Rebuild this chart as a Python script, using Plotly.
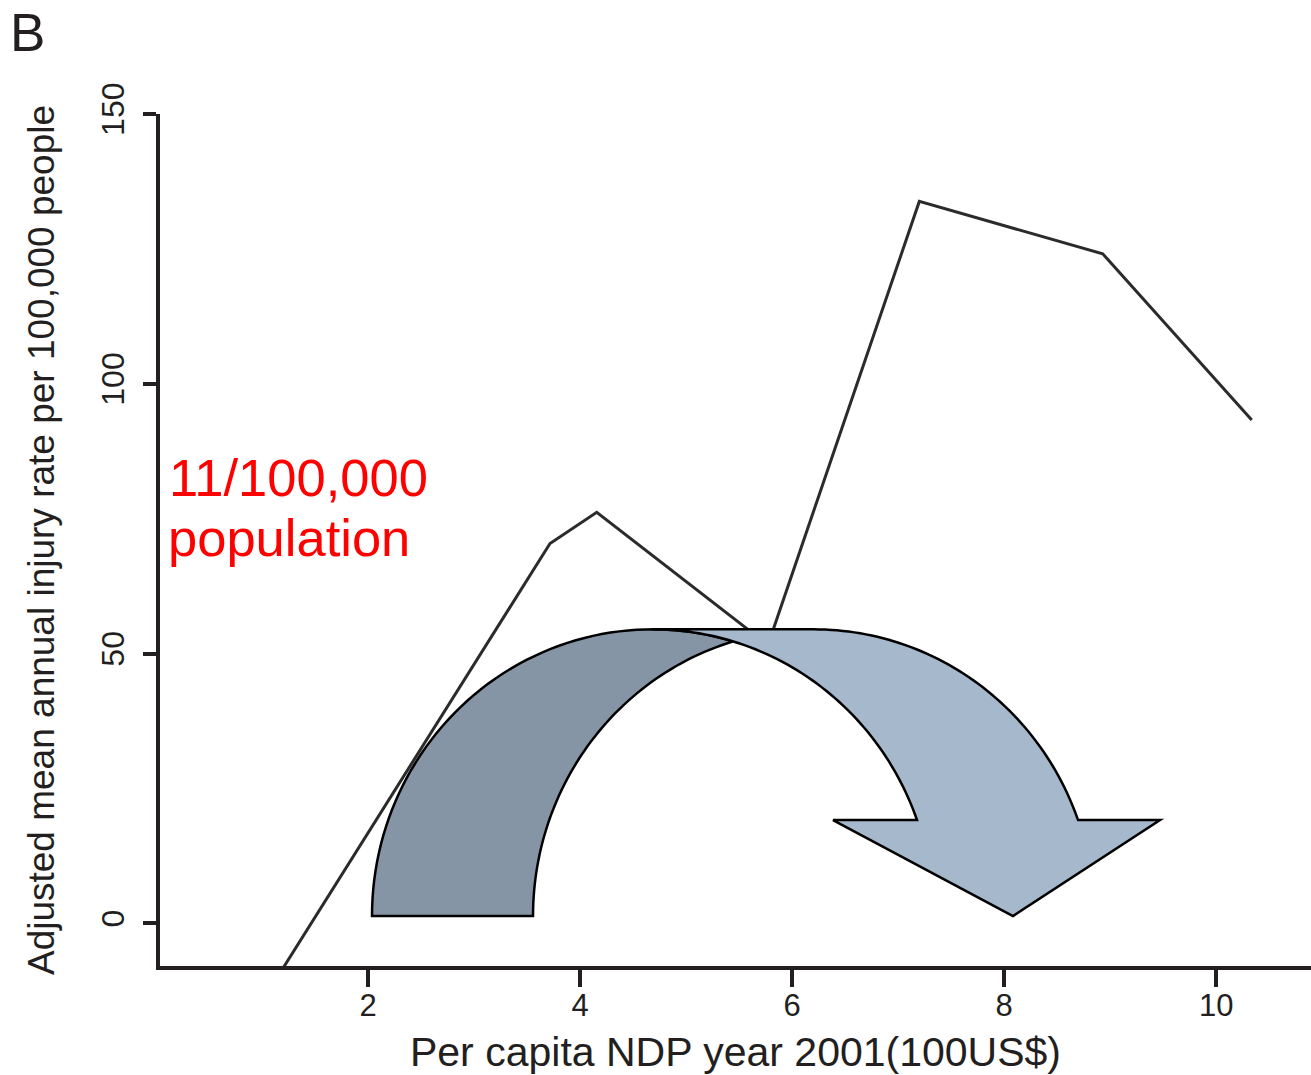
import numpy as np
import plotly.graph_objects as go

# ---- data ----
gdp = [1.10, 3.715, 4.156, 5.771, 7.199, 8.929, 10.335]
injury_rate = [-11.3, 70.4, 76.2, 51.6, 133.8, 124.1, 93.3]
x_ticks = [2, 4, 6, 8, 10]
y_ticks = [0, 50, 100, 150]

x_title = "Per capita NDP year 2001(100US$)"
y_title = "Adjusted mean annual injury rate per 100,000 people"
note_line1 = "11/100,000"
note_line2 = "population"
panel_label = "B"

# ---- layout constants ----
W, H = 1311, 1075
ML, MR, MT, MB = 160, 0, 114, 109
XR = [0.036, 10.894]
YR = [-7.89, 150]
FONT = "Liberation Sans, Arial, sans-serif"
INK = "#231f20"

fig = go.Figure()
fig.add_trace(go.Scatter(x=gdp, y=injury_rate, mode="lines",
                         line=dict(color="#2b2b2b", width=3),
                         showlegend=False, hoverinfo="skip"))

# ---- curved arrow decoration (data units) ----
a_left, a_bot, a_top = 2.036, 1.37, 54.5
a_wR, a_th = 2.647, 1.519
a_y1 = 19.15
a_barbL, a_barbR = 6.385, 9.47
a_tip = 8.083
a_h = a_top - a_bot
c_in = a_left + a_wR          # front inner / back outer centre
c_out = a_left + a_wR + a_th  # front outer / back inner centre

def ell(cx, ang):
    return cx + a_wR * np.cos(ang), a_bot + a_h * np.sin(ang)

def pts(cx, a0, a1, n=60):
    out = []
    for a in np.linspace(a0, a1, n):
        x, y = ell(cx, a)
        out.append(f"L{x:.5f},{y:.5f}")
    return " ".join(out)

th1 = np.arcsin((a_y1 - a_bot) / a_h)
front = (f"M{a_tip},{a_bot} L{a_barbL},{a_y1} "
         + pts(c_in, th1, np.pi / 2)
         + " " + pts(c_out, np.pi / 2, th1)
         + f" L{a_barbR},{a_y1} Z")

t_int = np.arccos((a_th / 2) / a_wR)
p_int = np.pi - t_int
back = (f"M{a_left},{a_bot} " + pts(c_in, np.pi, t_int)
        + " " + pts(c_out, p_int, np.pi) + " Z")

fig.add_shape(type="path", path=back, xref="x", yref="y", layer="above",
              fillcolor="#8595a6", line=dict(color="black", width=2.5))
fig.add_shape(type="path", path=front, xref="x", yref="y", layer="above",
              fillcolor="#a6b8cc", line=dict(color="black", width=2.5))

# ---- annotations ----
pw = W - ML - MR
ph = H - MT - MB
def px2paper_x(px):
    return (px - ML) / pw
def px2paper_y(py):
    return (H - MB - py) / ph

fig.add_annotation(text=note_line1, xref="paper", yref="paper",
                   x=px2paper_x(167), y=px2paper_y(478), xanchor="left", yanchor="middle",
                   showarrow=False, font=dict(family=FONT, size=52.5, color="#ff0000"))
fig.add_annotation(text=note_line2, xref="paper", yref="paper",
                   x=px2paper_x(166), y=px2paper_y(537), xanchor="left", yanchor="middle",
                   showarrow=False, font=dict(family=FONT, size=52.5, color="#ff0000"))
fig.add_annotation(text=panel_label, xref="paper", yref="paper",
                   x=px2paper_x(8), y=px2paper_y(0.5), xanchor="left", yanchor="top",
                   showarrow=False, font=dict(family=FONT, size=53, color=INK))

fig.update_layout(
    width=W, height=H,
    margin=dict(l=ML, r=MR, t=MT, b=MB),
    plot_bgcolor="white", paper_bgcolor="white",
    font=dict(family=FONT, color=INK),
    xaxis=dict(range=XR, tickvals=x_ticks, ticktext=[str(v) for v in x_ticks],
               showgrid=False, zeroline=False, showline=True, linecolor=INK, linewidth=4,
               ticks="outside", ticklen=17, tickwidth=3.5, tickcolor=INK,
               ticklabelstandoff=-8,
               tickfont=dict(size=31, family=FONT, color=INK),
               title=dict(text=x_title, font=dict(size=41, family=FONT, color=INK), standoff=17)),
    yaxis=dict(range=YR, tickvals=y_ticks, ticktext=[str(v) for v in y_ticks],
               showgrid=False, zeroline=False, showline=True, linecolor=INK, linewidth=4,
               ticks="outside", ticklen=13, tickwidth=3.5, tickcolor=INK, tickangle=-90,
               ticklabelstandoff=6,
               tickfont=dict(size=32, family=FONT, color=INK),
               title=dict(text=y_title, font=dict(size=37, family=FONT, color=INK), standoff=30)),
)

fig.write_html("out.html", config={"displayModeBar": False},
               post_script="document.body.style.margin='0';document.body.style.overflow='hidden';")
